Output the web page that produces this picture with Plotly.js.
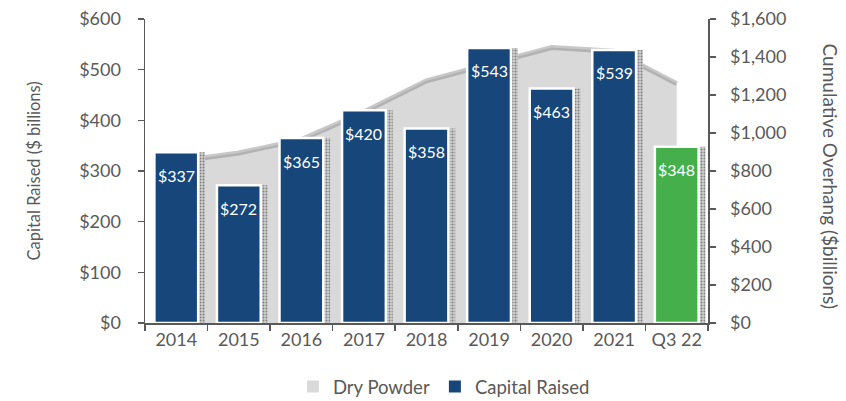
<!DOCTYPE html>
<html>
<head>
<meta charset="utf-8">
<script src="https://cdn.plot.ly/plotly-3.0.1.min.js"></script>
<style>html,body{margin:0;padding:0;background:#fff;}#chart{width:846px;height:401px;}</style>
</head>
<body>
<div id="chart"></div>
<script>
const categories = ["2014","2015","2016","2017","2018","2019","2020","2021","Q3 22"];
const capitalRaised = [337, 272, 365, 420, 384, 543, 463, 539, 348];
const capitalLabels = ["$337","$272","$365","$420","$358","$543","$463","$539","$348"];
const dryPowder = [850, 895, 965, 1110, 1275, 1365, 1450, 1430, 1260];
const barColors = ["#17467b","#17467b","#17467b","#17467b","#17467b","#17467b","#17467b","#17467b","#45b04b"];

const font = "Lato, 'Open Sans', sans-serif";
const grey = "#595959";

const traces = [
  {
    type: "scatter", x: categories, y: dryPowder, yaxis: "y",
    mode: "lines", fill: "tozeroy", fillcolor: "#d9d9d9",
    line: {color: "rgba(130,130,130,0.45)", width: 5},
    showlegend: false, hoverinfo: "skip"
  },
  {
    type: "bar", x: categories, y: capitalRaised, yaxis: "y2",
    width: 0.7, offset: -0.24,
    marker: {color: "#c8c8c8", pattern: {shape: ".", fgcolor: "#808080", bgcolor: "#d0d0d0", size: 3, solidity: 0.35}},
    showlegend: false, hoverinfo: "skip"
  },
  {
    type: "bar", x: categories, y: capitalRaised, yaxis: "y2",
    width: 0.7, offset: -0.35,
    marker: {color: barColors, line: {color: "#ffffff", width: 2.5}},
    showlegend: false
  },
  {
    type: "bar", x: [categories[0]], y: [null], yaxis: "y2", name: "Dry Powder",
    marker: {color: "#d9d9d9"}, hoverinfo: "skip"
  },
  {
    type: "bar", x: [categories[0]], y: [null], yaxis: "y2", name: "Capital Raised",
    marker: {color: "#17467b"}, hoverinfo: "skip"
  }
];

const annotations = categories.map((c, i) => ({
  x: i, y: capitalRaised[i], xref: "x", yref: "y2",
  text: capitalLabels[i], showarrow: false,
  yanchor: "middle", yshift: -23,
  font: {family: font, size: 16, color: "#ffffff"}
}));
annotations.push({
  xref: "paper", yref: "paper", x: -0.198, y: 0.5,
  text: "Capital Raised ($ billions)", textangle: -90, showarrow: false,
  xanchor: "center", yanchor: "middle",
  font: {family: font, size: 16.5, color: grey}
});
annotations.push({
  xref: "paper", yref: "paper", x: 1.2167, y: 0.485,
  text: "Cumulative Overhang ($billions)", textangle: 90, showarrow: false,
  xanchor: "center", yanchor: "middle",
  font: {family: font, size: 19, color: grey}
});

const layout = {
  width: 846, height: 401,
  margin: {l: 145, r: 138, t: 19, b: 78, autoexpand: false},
  paper_bgcolor: "#ffffff", plot_bgcolor: "#ffffff",
  barmode: "overlay",
  font: {family: font, size: 18, color: grey},
  xaxis: {
    type: "category", range: [-0.5, 8.5],
    showline: true, linecolor: grey, linewidth: 1.5,
    ticks: "outside", tickson: "boundaries", ticklen: 6, tickcolor: grey, tickwidth: 1.5,
    showgrid: false, zeroline: false, fixedrange: true,
    tickfont: {family: font, size: 18, color: grey}
  },
  yaxis: {
    side: "right", range: [0, 1600], dtick: 200,
    tickprefix: "$", tickformat: ",d",
    showline: true, linecolor: grey, linewidth: 1.5,
    ticks: "outside", ticklen: 6, tickcolor: grey, tickwidth: 1.5,
    ticklabelstandoff: 11,
    showgrid: false, zeroline: false,
    tickfont: {family: font, size: 18, color: grey}
  },
  yaxis2: {
    side: "left", overlaying: "y", range: [0, 600], dtick: 100,
    tickprefix: "$", tickformat: ",d",
    showline: true, linecolor: grey, linewidth: 1.5,
    ticks: "outside", ticklen: 6, tickcolor: grey, tickwidth: 1.5,
    ticklabelstandoff: 13,
    showgrid: false, zeroline: false,
    tickfont: {family: font, size: 18, color: grey}
  },
  legend: {
    orientation: "h", xref: "container", yref: "container",
    x: 0.3463, xanchor: "left", y: 0.035, yanchor: "middle",
    font: {family: font, size: 18.5, color: grey}, traceorder: "normal"
  },
  annotations: annotations,
  showlegend: true
};

Plotly.newPlot("chart", traces, layout, {displayModeBar: false, staticPlot: true});
</script>
</body>
</html>
